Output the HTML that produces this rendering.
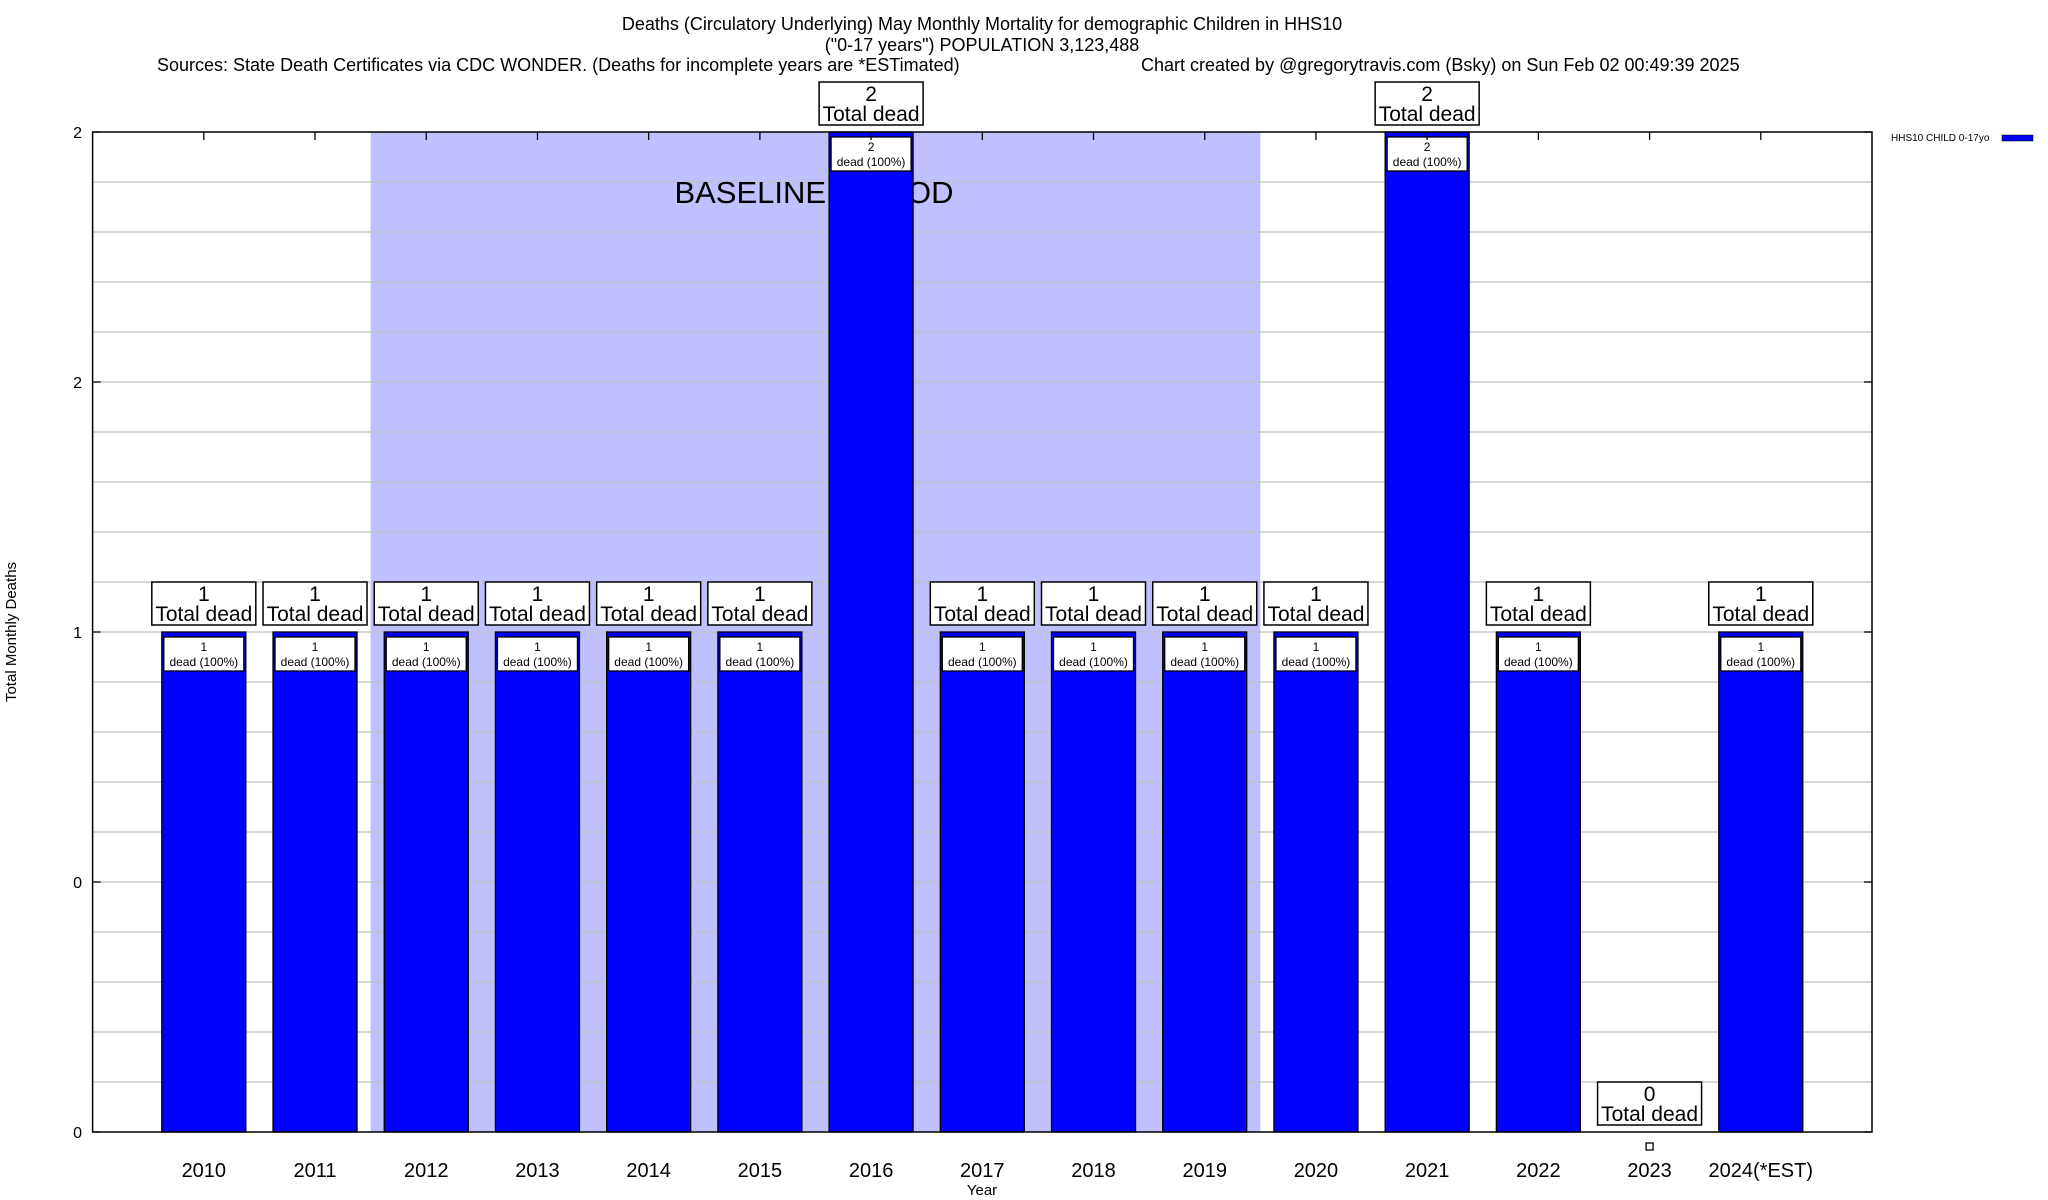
<!DOCTYPE html>
<html><head><meta charset="utf-8"><style>
html,body{margin:0;padding:0;background:#fff}
svg{display:block}
text{font-family:"Liberation Sans",sans-serif;fill:#000}
</style></head><body>
<svg id="chart" width="2048" height="1200" viewBox="0 0 2048 1200" xmlns="http://www.w3.org/2000/svg">
<g>
<text x="982" y="30" font-size="18" text-anchor="middle">Deaths (Circulatory Underlying) May Monthly Mortality for demographic Children in HHS10</text>
<text x="982" y="51" font-size="18" text-anchor="middle">("0-17 years") POPULATION 3,123,488</text>
<text x="157" y="71" font-size="18">Sources: State Death Certificates via CDC WONDER. (Deaths for incomplete years are *ESTimated)</text>
<text x="1141" y="71" font-size="18">Chart created by @gregorytravis.com (Bsky) on Sun Feb 02 00:49:39 2025</text>
</g>
<g id="plot"></g>
<text x="16" y="632" font-size="15" text-anchor="middle" transform="rotate(-90 16 632)">Total Monthly Deaths</text>
<text x="982" y="1195" font-size="15" text-anchor="middle">Year</text>
<g>
<text x="1891" y="141" font-size="10">HHS10 CHILD 0-17yo</text>
<rect x="2002" y="135" width="31" height="6" fill="#0000ff" stroke="#000" stroke-width="0.5"></rect>
</g>
</svg>
<script>
const categories=["2010","2011","2012","2013","2014","2015","2016","2017","2018","2019","2020","2021","2022","2023","2024(*EST)"];
const deaths=[1,1,1,1,1,1,2,1,1,1,1,2,1,0,1];
const yTickValues=[0,0.5,1,1.5,2];
const yTickLabels=["0","0","1","2","2"];
const baselineStart=1.5, baselineEnd=9.5;

const NS="http://www.w3.org/2000/svg";
const L=92.6,R=1872,T=132,B=1132;
const xS=i=>L+(i+1)*(R-L)/16;
const yS=v=>B-(v/2)*(B-T);
const g=document.getElementById('plot');
function mk(tag,attrs,parent){const e=document.createElementNS(NS,tag);for(const k in attrs)e.setAttribute(k,attrs[k]);(parent||g).appendChild(e);return e;}

// baseline shading
let sh=mk('rect',{x:xS(baselineStart),y:T,width:xS(baselineEnd)-xS(baselineStart),height:B-T,fill:'#c0c0ff'});


// gridlines every 0.1
for(let k=1;k<20;k++){
  const v=k*0.1;
  const ln=mk('line',{x1:L,x2:R,y1:yS(v),y2:yS(v),stroke:'#c0c0c0','stroke-width':1.3});
  
  
}
let bt=mk('text',{x:814,y:203,'font-size':31,'text-anchor':'middle'});
bt.textContent='BASELINE PERIOD';



const bw=84;
categories.forEach((c,i)=>{
  const cx=xS(i),v=deaths[i],yt=yS(v);
  if(v>0){
    const r=mk('rect',{x:cx-bw/2,y:yt,width:bw,height:B-yt,fill:'#0000ff',stroke:'#000','stroke-width':1.3});
    
    
    const ib=mk('rect',{x:cx-40,y:yt+5,width:80,height:34,fill:'#fff',stroke:'#000','stroke-width':1.3});
    
    
    const t1=mk('text',{x:cx,y:yt+19,'font-size':12,'text-anchor':'middle'});t1.textContent=String(v);
    
    
    const t2=mk('text',{x:cx,y:yt+34,'font-size':12,'text-anchor':'middle'});t2.textContent='dead (100%)';
    
    
  } else {
    const m=mk('rect',{x:cx-3.5,y:B+11,width:7,height:7,fill:'#fff',stroke:'#000','stroke-width':1.3});
    
    
  }
  const by=yt-50;
  const ob=mk('rect',{x:cx-52,y:by,width:104,height:43,fill:'#fff',stroke:'#000','stroke-width':1.5});
  
  
  const o1=mk('text',{x:cx,y:by+19,'font-size':21,'text-anchor':'middle'});o1.textContent=String(v);
  
  
  const o2=mk('text',{x:cx,y:by+39,'font-size':21,'text-anchor':'middle'});o2.textContent='Total dead';
  
  
  const xl=mk('text',{x:cx,y:1177,'font-size':20,'text-anchor':'middle'});xl.textContent=c;
  
  
  const tk=mk('line',{x1:cx,x2:cx,y1:T,y2:T+8,stroke:'#000','stroke-width':1.3});
  
  
});
yTickValues.forEach((v,i)=>{
  const tl=mk('text',{x:82,y:yS(v)+6,'font-size':16,'text-anchor':'end'});tl.textContent=yTickLabels[i];
  
  
  const tk=mk('line',{x1:L,x2:L+8,y1:yS(v),y2:yS(v),stroke:'#000','stroke-width':1.3});
  
  
  const tk2=mk('line',{x1:R-8,x2:R,y1:yS(v),y2:yS(v),stroke:'#000','stroke-width':1.3});
  
  
});
const fr=mk('rect',{x:L,y:T,width:R-L,height:B-T,fill:'none',stroke:'#000','stroke-width':1.5});


</script>
</body></html>
